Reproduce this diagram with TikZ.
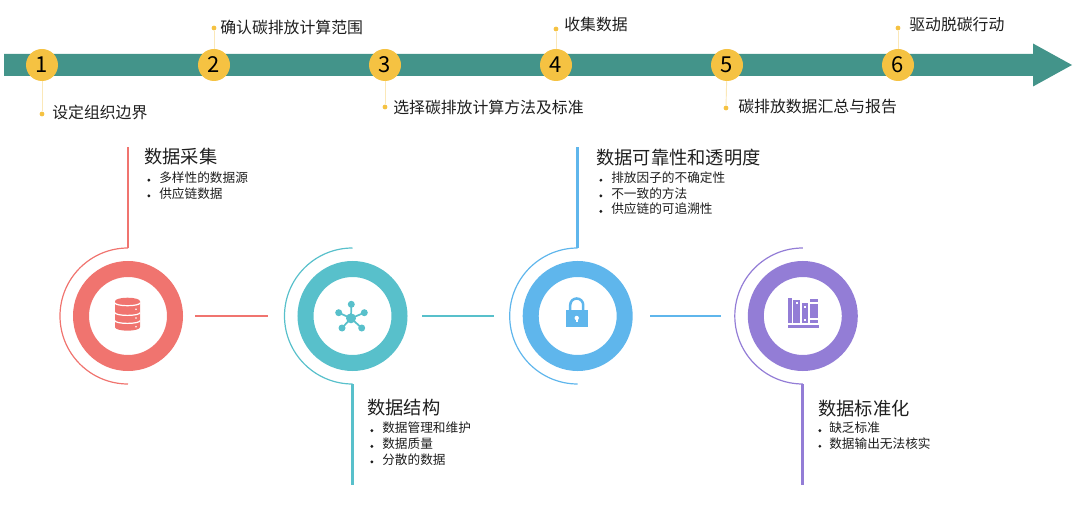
\documentclass[tikz,border=0pt]{standalone}
\usepackage{fontspec}
\setmainfont{Noto Sans CJK SC}
\usetikzlibrary{arrows.meta,positioning,calc}
\definecolor{cbar}{HTML}{43948A}
\definecolor{cgold}{HTML}{F5C242}
\definecolor{cpale}{HTML}{FBE8B8}
\definecolor{cred}{HTML}{F0746F}
\definecolor{cteal}{HTML}{58C0CB}
\definecolor{cblue}{HTML}{5FB6EC}
\definecolor{cpurp}{HTML}{937DD6}
\definecolor{ctext}{HTML}{1E1E1E}
\newcommand{\ringstage}[4]{%
  \node[ringn, draw=#3] (ring#1) at (#2,191) {};
  \coordinate (arc#1) at (#2,{191+#4*68});
  \coordinate (end#1) at (#2,{191+#4*169});
  \draw[#3, line width=0.9pt] ([yshift=51pt]ring#1.center) arc[start angle=90, end angle=270, radius=51pt];
  \draw[stem, #3] (arc#1) -- (end#1);}
\tikzset{
  x=0.75pt, y=0.75pt,
  stepn/.style={circle, fill=cgold, inner sep=0pt, minimum size=24pt, font=\fontsize{16.5}{16.5}\selectfont, text=black},
  dotn/.style={circle, fill=cgold, inner sep=0pt, minimum size=3.6pt},
  lead/.style={cpale, line width=0.7pt},
  tlab/.style={font=\fontsize{11.9}{14}\selectfont, text=ctext, anchor=west, inner sep=0pt},
  ringn/.style={circle, line width=12pt, minimum size=70.5pt, inner sep=0pt},
  stem/.style={line width=2.2pt},
  link/.style={line width=2pt},
  hd/.style={font=\fontsize{13.7}{16}\selectfont, text=ctext, anchor=west, inner sep=0pt},
  items/.style={font=\fontsize{9.5}{11.7}\selectfont, text=ctext, anchor=north west, inner sep=0pt, align=left},
}
\newcommand{\itm}[2][9pt]{\makebox[#1][l]{\raisebox{0.5pt}{\tikz\fill (0,0) circle (1.2pt);}}#2}
\begin{document}
\begin{tikzpicture}
  \useasboundingbox (0,0) rectangle (1080,507);
  % timeline
  \fill[cbar] (4,453) -- (1033,453) -- (1033,463.5) -- (1072,442) -- (1033,420.5) -- (1033,431) -- (4,431) -- cycle;
  \foreach \n/\cx/\dx/\dy/\tx/\ty/\lab in {
      1/42/42/393/52/395/设定组织边界,
      2/214/214/479/220/480/确认碳排放计算范围,
      3/385/385/400/393/400/选择碳排放计算方法及标准,
      4/556/556/478/564/483/收集数据,
      5/727/726/399/738/400/碳排放数据汇总与报告,
      6/898/898/479/909/483/驱动脱碳行动}{
    \node[dotn] (dot\n) at (\dx,\dy) {};
    \node[stepn] (num\n) at (\cx,442) {\n};
    \draw[lead] (num\n) -- (dot\n);
    \node[tlab] (lab\n) at (\tx,\ty) {\lab};
  }
  % rings
  \ringstage{1}{128}{cred}{1}
  \ringstage{2}{352.5}{cteal}{-1}
  \ringstage{3}{577.7}{cblue}{1}
  \ringstage{4}{802.8}{cpurp}{-1}
  \draw[link, cred, shorten <=9pt, shorten >=22.5pt] (ring1) -- (ring2);
  \draw[link, cteal, shorten <=10.9pt, shorten >=21.5pt] (ring2) -- (ring3);
  \draw[link, cblue, shorten <=13pt, shorten >=20pt] (ring3) -- (ring4);
  % database
  \begin{scope}[shift={(ring1.center)}]
    \fill[cred] (-13,14.8) -- (-13,-11.2) arc[start angle=180, end angle=360, x radius=12.5, y radius=3.5]
      -- (12,14.8) arc[start angle=0, end angle=180, x radius=12.5, y radius=3.5] -- cycle;
    \foreach \yy in {13,3.3,-4.7}
      \draw[white, line width=0.9pt] (-13,\yy) arc[start angle=180, end angle=360, x radius=12.5, y radius=2.7];
    \foreach \yy in {6.7,-2,-10.7}
      \fill[white] (8,\yy) circle (0.9);
  \end{scope}
  % network
  \begin{scope}[shift={(ring2.center)}]
    \foreach \px/\py in {-1.2/11.7,-13.8/3.3,11.8/3.3,-10.5/-12,9.2/-12}{
      \draw[cteal, line width=1.3pt] (-1.5,-2.3) -- (\px,\py);
      \fill[cteal] (\px,\py) circle (3.5);
    }
    \fill[cteal] (-1.5,-2.3) circle (5);
  \end{scope}
  % lock
  \begin{scope}[shift={(ring3.center)}]
    \draw[cblue, line width=1.9pt] (-7.5,5) -- (-7.5,11) arc[start angle=180, end angle=0, radius=6.5] -- (5.5,5);
    \fill[cblue] (-12,6) rectangle (10,-11);
    \fill[white] (-1,-2) circle (2.2);
    \fill[white] (-2,-2) rectangle (0,-6.5);
  \end{scope}
  % books
  \begin{scope}[shift={(ring4.center)}]
    \fill[cpurp] (-14.8,-9) rectangle (16.5,-11.7);
    \fill[cpurp] (-14.8,18.3) rectangle (-11.1,-7.3);
    \fill[cpurp] (-9.5,16) rectangle (-2.8,-7.3);
    \fill[cpurp] (-1.1,12.7) rectangle (5.5,-7.3);
    \fill[cpurp] (7.2,17) rectangle (15.5,13.5);
    \fill[cpurp] (7.2,11.7) rectangle (15.5,-2.3);
    \fill[cpurp] (7.2,-4) rectangle (15.5,-7.3);
    \fill[white] (-7.2,13.5) rectangle (-5.2,11.5);
    \fill[white] (1.2,10) rectangle (3.0,8.2);
    \fill[white] (1.2,-3.2) rectangle (3.0,-5);
  \end{scope}
  % texts
  \node[hd] (hd1) at (144,350) {数据采集};
  \node[items] (it1) at (147,335.5) {\itm{多样性的数据源}\\\itm{供应链数据}};
  \node[hd] (hd2) at (367,99) {数据结构};
  \node[items] (it2) at (370,85) {\itm{数据管理和维护}\\\itm{数据质量}\\\itm{分散的数据}};
  \node[hd] (hd3) at (596,349) {数据可靠性和透明度};
  \node[items] (it3) at (599,335.5) {\itm{排放因子的不确定性}\\\itm{不一致的方法}\\\itm{供应链的可追溯性}};
  \node[hd] (hd4) at (818,98) {数据标准化};
  \node[items] (it4) at (818,85) {\itm[8.25pt]{缺乏标准}\\\itm[8.25pt]{数据输出无法核实}};
\end{tikzpicture}
\end{document}
